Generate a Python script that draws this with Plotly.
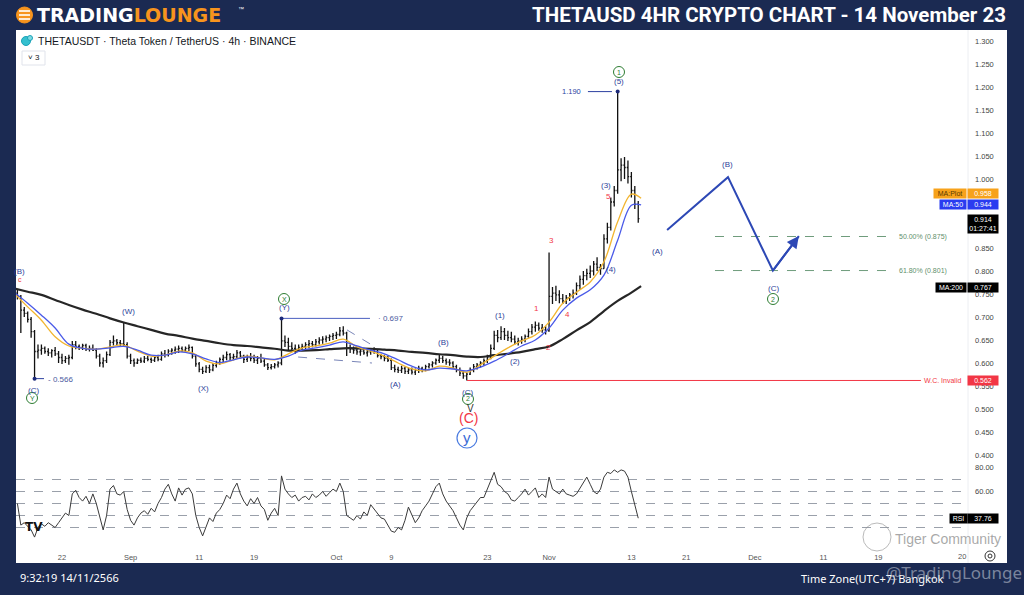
import plotly.graph_objects as go
import pandas as pd

W, H = 1024, 595
def px(x): return x / W
def py(y): return 1 - y / H

NAVY = "#1b2a52"
WAVE_BLUE = "#2d3f9a"
RED = "#f23645"
GREEN = "#2e7d32"
FONT = "Liberation Sans"

# ---------------- DATA ----------------
candle_start = "2023-08-15 12:00"   # 12h candles
first_open = 0.752
highs = [
    .760,
    .748, .722, .712, .700, .672, .640, .640, .636, .632, .630, .635, .626,
    .620, .615, .618, .648, .648, .640, .642, .642, .638, .640, .632, .620,
    .612, .625, .650, .660, .652, .650, .688, .645,
    .620, .610, .610, .612, .615, .616, .612, .616, .618, .625,
    .628, .630, .632, .636, .638, .636, .636, .640, .636, .618,
    .602, .592, .595, .596, .600, .605, .612, .618, .625, .622,
    .620, .628, .626, .618, .618, .622, .618, .615, .620, .610,
    .600, .598, .600, .604, .697, .660, .655, .645, .640, .640,
    .642, .645, .650, .648, .652, .656, .658, .660, .662, .665,
    .668, .678, .680, .668, .640, .636, .634, .630, .632, .628,
    .632, .634, .628, .620, .618, .616, .610, .596, .592, .594,
    .592, .590, .590, .588, .594, .592, .596, .600, .604, .610,
    .618, .616, .610, .608, .604, .596, .590, .582, .580, .590,
    .598, .600, .604, .610, .618, .640, .670, .672, .680, .676,
    .670, .668, .660, .655, .658, .662, .675, .685, .690, .688,
    .685, .680,
    .840, .765, .768, .758, .750, .748, .752, .760, .775, .790,
    .800, .805, .812, .822, .830, .815, .880, .905, .960, .985,
    1.190, 1.045, 1.048, 1.040, 1.015, .985,
    .952,
]
lows = [
    .738,
    .665, .700, .688, .655, .566, .610, .618, .620, .615, .612, .615, .600,
    .598, .600, .596, .608, .630, .628, .628, .626, .625, .626, .610, .592,
    .590, .600, .615, .638, .638, .636, .636, .610,
    .598, .592, .598, .600, .600, .604, .600, .602, .604, .605,
    .612, .614, .618, .620, .622, .624, .624, .626, .610, .592,
    .580, .576, .578, .578, .582, .590, .596, .602, .606, .606,
    .606, .610, .610, .600, .602, .604, .600, .598, .600, .592,
    .585, .586, .588, .590, .595, .635, .628, .625, .620, .624,
    .628, .630, .632, .634, .636, .640, .642, .645, .648, .650,
    .652, .658, .660, .615, .622, .620, .618, .616, .618, .614,
    .618, .620, .612, .608, .604, .602, .585, .580, .578, .578,
    .576, .576, .575, .574, .578, .580, .582, .588, .590, .596,
    .600, .600, .596, .594, .588, .580, .572, .566, .562, .574,
    .580, .586, .590, .594, .600, .608, .628, .645, .650, .650,
    .648, .645, .640, .638, .642, .645, .655, .662, .668, .670,
    .666, .662,
    .668, .728, .735, .730, .728, .728, .735, .740, .748, .760,
    .770, .780, .785, .790, .800, .792, .805, .860, .888, .940,
    .968, .995, 1.000, .990, .960, .935,
    .905,
]
closes = [
    .745,
    .715, .708, .695, .668, .625, .628, .632, .625, .622, .627, .620, .612,
    .605, .610, .612, .640, .636, .634, .638, .630, .632, .628, .615, .600,
    .605, .618, .645, .648, .644, .642, .640, .615,
    .605, .600, .606, .604, .610, .608, .606, .612, .608, .620,
    .618, .626, .628, .630, .632, .628, .632, .634, .615, .598,
    .586, .582, .590, .585, .595, .600, .608, .612, .618, .612,
    .614, .622, .615, .608, .612, .610, .606, .610, .604, .596,
    .590, .592, .596, .600, .648, .645, .636, .632, .630, .634,
    .636, .640, .642, .640, .646, .650, .652, .655, .658, .660,
    .662, .670, .665, .632, .630, .628, .624, .626, .622, .624,
    .628, .625, .616, .614, .610, .606, .590, .586, .584, .588,
    .582, .585, .580, .584, .588, .586, .592, .596, .600, .606,
    .610, .605, .602, .600, .592, .585, .578, .572, .576, .585,
    .592, .596, .600, .605, .612, .632, .660, .655, .668, .660,
    .655, .652, .646, .648, .652, .658, .668, .678, .682, .676,
    .672, .670,
    .745, .752, .748, .740, .735, .742, .748, .752, .768, .782,
    .790, .795, .800, .815, .808, .805, .870, .895, .950, .975,
    1.020, 1.030, 1.025, 1.005, .975, .945,
    .914,
]
rsi = [
    50, 32, 34, 31, 28, 22, 30, 33, 31, 34,
    32, 30, 34, 38, 42, 40, 58, 61, 55, 52,
    56, 50, 58, 50, 38, 28, 40, 62, 65, 58,
    57, 60, 45, 36, 32, 38, 42, 44, 41, 46,
    43, 50, 55, 62, 66, 58, 52, 63, 57, 62,
    63, 58, 40, 30, 23, 30, 38, 35, 42, 45,
    50, 57, 54, 62, 67, 58, 52, 48, 54, 50,
    55, 48, 45, 36, 42, 46, 40, 73, 62, 58,
    55, 57, 52, 55, 56, 53, 58, 55, 57, 60,
    56, 59, 62, 60, 67, 60, 40, 38, 36, 40,
    37, 43, 40, 49, 45, 41, 38, 37, 32, 27,
    26, 30, 28, 36, 47, 40, 34, 38, 44, 48,
    52, 58, 64, 67, 58, 52, 48, 44, 38, 32,
    28, 38, 44, 48, 52, 55, 55, 62, 70, 76,
    66, 64, 60, 58, 53, 52, 55, 58, 62, 57,
    60, 63, 55, 58, 55, 72, 62, 60, 58, 62,
    58, 57, 56, 58, 63, 68, 72, 66, 60, 58,
    62, 72, 76, 75, 78, 76, 78, 77, 72, 60,
    50, 37.76,
]
ma_start = "2023-08-15"  # every 2 days, plus the live point
ma_last_time = "2023-11-14 10:00"
ma200 = [0.762, 0.755, 0.748, 0.737, 0.726, 0.716, 0.707, 0.697, 0.688, 0.680,
         0.672, 0.664, 0.659, 0.653, 0.648, 0.643, 0.639, 0.637, 0.634, 0.631,
         0.627, 0.627, 0.628, 0.630, 0.632, 0.632, 0.631, 0.629, 0.627, 0.624,
         0.622, 0.619, 0.617, 0.614, 0.613, 0.617, 0.620, 0.624, 0.630, 0.636,
         0.652, 0.671, 0.689, 0.713, 0.735, 0.753, 0.767]
ma50 = [0.754, 0.730, 0.704, 0.676, 0.641, 0.632, 0.630, 0.633, 0.636, 0.628,
        0.617, 0.617, 0.624, 0.620, 0.609, 0.601, 0.607, 0.613, 0.611, 0.608,
        0.615, 0.628, 0.633, 0.639, 0.646, 0.637, 0.628, 0.620, 0.607, 0.593,
        0.585, 0.589, 0.587, 0.583, 0.591, 0.604, 0.620, 0.637, 0.650, 0.676,
        0.715, 0.741, 0.759, 0.791, 0.867, 0.943, 0.944]
ma_plot = [0.752, 0.722, 0.693, 0.657, 0.637, 0.632, 0.630, 0.635, 0.639, 0.626,
           0.615, 0.617, 0.626, 0.622, 0.604, 0.598, 0.607, 0.615, 0.611, 0.607,
           0.620, 0.633, 0.637, 0.643, 0.652, 0.635, 0.626, 0.615, 0.600, 0.587,
           0.583, 0.593, 0.589, 0.580, 0.596, 0.615, 0.633, 0.648, 0.661, 0.689,
           0.730, 0.754, 0.776, 0.820, 0.907, 0.967, 0.958]

x_tick_dates = ["2023-08-22", "2023-09-01", "2023-09-11", "2023-09-19", "2023-10-01",
                "2023-10-09", "2023-10-23", "2023-11-01", "2023-11-13", "2023-11-21",
                "2023-12-01", "2023-12-11", "2023-12-19"]
x_tick_text = ["22", "Sep", "11", "19", "Oct", "9", "23", "Nov", "13", "21", "Dec", "11", "19"]
# tick labels left visible (0.900 / 0.950 / 40 / 20 sit under the value boxes in the reference)
price_ticks = [0.40, 0.45, 0.50, 0.55, 0.60, 0.65, 0.70, 0.75, 0.80, 0.85,
               1.00, 1.05, 1.10, 1.15, 1.20, 1.25, 1.30]
rsi_ticks = [80, 60]
rsi_levels = [70, 60, 50, 40, 30]

fib_levels = [0.875, 0.801]
fib_labels = ["50.00% (0.875)", "61.80% (0.801)"]
fib_dates = ["2023-11-25 04:30", "2023-12-21 03:00"]
proj_dates = ["2023-11-18 05:00", "2023-11-27 02:00", "2023-12-03 15:00", "2023-12-07 10:00"]
proj_prices = [0.889, 1.004, 0.801, 0.876]
invalid_level = 0.562
invalid_dates = ["2023-10-20 01:00", "2023-12-25 05:00"]
top_level = 1.190
top_dates = ["2023-11-06 16:00", "2023-11-10 04:00"]
top_time = "2023-11-11 00:00"
x_high_level = 0.697
x_high_dates = ["2023-09-23 00:00", "2023-10-05 21:30"]
low_level = 0.566
low_dates = ["2023-08-18 00:00", "2023-08-19 09:00"]
channel_upper = (["2023-10-02 13:00", "2023-10-06 04:30"], [0.672, 0.639])
channel_lower = (["2023-09-25 10:00", "2023-10-06 04:30"], [0.613, 0.600])

last_price = 0.914
last_rsi = 37.76

# ---------------- BUILD ----------------
candle_times = pd.date_range(candle_start, periods=len(closes), freq="12h")
opens = [first_open] + closes[:-1]
ma_times = list(pd.date_range(ma_start, periods=len(ma200) - 1, freq="2D")) + [pd.Timestamp(ma_last_time)]

fig = go.Figure()

fig.add_trace(go.Ohlc(
    x=candle_times, open=opens, high=highs, low=lows, close=closes,
    increasing=dict(line=dict(color="#111111", width=1.3)),
    decreasing=dict(line=dict(color="#111111", width=1.3)),
    tickwidth=0.35, xaxis="x", yaxis="y", hoverinfo="skip"))

fig.add_trace(go.Scatter(x=ma_times, y=ma200, mode="lines", line=dict(color="#262626", width=2.2, shape="spline"),
                         xaxis="x", yaxis="y", hoverinfo="skip"))
fig.add_trace(go.Scatter(x=ma_times, y=ma_plot, mode="lines", line=dict(color="#f2b530", width=1.3, shape="spline"),
                         xaxis="x", yaxis="y", hoverinfo="skip"))
fig.add_trace(go.Scatter(x=ma_times, y=ma50, mode="lines", line=dict(color="#4a5ae8", width=1.3, shape="spline"),
                         xaxis="x", yaxis="y", hoverinfo="skip"))

def hline(dates, level, color, width=1, dash="solid"):
    fig.add_trace(go.Scatter(x=dates, y=[level, level], mode="lines", line=dict(color=color, width=width, dash=dash),
                             xaxis="x", yaxis="y", hoverinfo="skip"))
hline(invalid_dates, invalid_level, RED, 1)
for lvl in fib_levels:
    hline(fib_dates, lvl, "#6f9c7c", 1, "dash")
hline(top_dates, top_level, "#2c3f9f", 1)
hline(x_high_dates, x_high_level, "#4a5fc0", 1)
hline(low_dates, low_level, "#2c3f9f", 1)
fig.add_trace(go.Scatter(x=[top_time, x_high_dates[0], low_dates[0]], y=[top_level, x_high_level, low_level],
                         mode="markers", marker=dict(color="#1c2a7a", size=4), xaxis="x", yaxis="y", hoverinfo="skip"))
for cx, cy in (channel_upper, channel_lower):
    fig.add_trace(go.Scatter(x=cx, y=cy, mode="lines", line=dict(color="#7a86b8", width=1, dash="dash"),
                             xaxis="x", yaxis="y", hoverinfo="skip"))

fig.add_trace(go.Scatter(x=proj_dates, y=proj_prices, mode="lines", line=dict(color="#2d48b5", width=2),
                         xaxis="x", yaxis="y", hoverinfo="skip"))

fig.add_trace(go.Scatter(x=candle_times, y=rsi, mode="lines", line=dict(color="#3a3a3a", width=1),
                         xaxis="x2", yaxis="y2", hoverinfo="skip"))

x_range = ["2023-08-15 07:03", "2024-01-01 01:41"]
dom_x = [px(16), px(968)]
annotations = []
shapes = []

def label(text, x, y, color, size=8, xanchor="center", family=FONT):
    annotations.append(dict(text=text, x=px(x), y=py(y), xref="paper", yref="paper", showarrow=False,
                            font=dict(color=color, size=size, family=family), xanchor=xanchor, yanchor="middle"))

def circ(x, y, r, color, width=1, fill=None):
    shapes.append(dict(type="circle", xref="paper", yref="paper", x0=px(x - r), x1=px(x + r),
                       y0=py(y + r), y1=py(y - r), line=dict(color=color, width=width),
                       fillcolor=fill if fill else "rgba(0,0,0,0)", layer="above"))

def box(text, xc, y, bg, fg, w, size=7):
    annotations.append(dict(text=text, x=px(xc), y=py(y), xref="paper", yref="paper", showarrow=False,
                            font=dict(color=fg, size=size, family=FONT), bgcolor=bg, width=w, borderpad=1,
                            xanchor="center", yanchor="middle", align="center"))

shapes.append(dict(type="rect", xref="paper", yref="paper", x0=px(16), x1=px(1007), y0=py(563), y1=py(30),
                   fillcolor="white", line=dict(width=0), layer="below"))
shapes.append(dict(type="line", xref="paper", yref="paper", x0=px(968), x1=px(968), y0=py(563), y1=py(30),
                   line=dict(color="#eceef2", width=1), layer="below"))
for lv in rsi_levels:
    shapes.append(dict(type="line", xref="x2 domain", yref="y2", x0=0, x1=1, y0=lv, y1=lv,
                       line=dict(color="#9aa0aa", width=1, dash="dash"), layer="below"))

# header
circ(24.5, 15, 8, "#f7941d", 1, "#f7941d")
for yy in (11, 15, 19):
    shapes.append(dict(type="line", xref="paper", yref="paper", x0=px(19), x1=px(30), y0=py(yy), y1=py(yy),
                       line=dict(color="white", width=1.6), layer="above"))
label("<b><span style='color:#ffffff'>TRADING</span><span style='color:#f7941d'>LOUNGE</span></b>", 35, 15,
      "white", 19, "left", "DejaVu Sans")
label("™", 236, 9, "white", 6, "left")
annotations.append(dict(text="<b>THETAUSD 4HR CRYPTO CHART - 14 November 23</b>", x=px(1008), y=py(15),
                        xref="paper", yref="paper", showarrow=False, xanchor="right", yanchor="middle",
                        font=dict(color="white", size=20.5, family="Roboto")))

# symbol line
circ(26, 41, 4.5, "#1aa3b8", 1, "#35c0cf")
circ(30, 38, 2.5, "#1aa3b8", 1, "#7fdbe4")
label("THETAUSDT · Theta Token / TetherUS · 4h · BINANCE", 36, 41, "#131722", 10.5, "left")
shapes.append(dict(type="rect", xref="paper", yref="paper", x0=px(22), x1=px(45), y0=py(65), y1=py(51),
                   line=dict(color="#e0e3eb", width=1), fillcolor="white", layer="above"))
label("˅ 3", 33.5, 58, "#131722", 8)

# wave labels
label("(B)", 19, 272, WAVE_BLUE, 8)
label("c", 20, 279, RED, 7)
label("(C)", 33, 390, WAVE_BLUE, 8)
circ(32, 398, 5.5, GREEN); label("Y", 32, 398, GREEN, 7)
label("(W)", 128, 311, WAVE_BLUE, 8)
label("(X)", 203, 388, WAVE_BLUE, 8)
circ(284, 299, 5.5, GREEN); label("X", 284, 299, GREEN, 7)
label("(Y)", 284, 307, WAVE_BLUE, 8)
label("(A)", 395, 384, WAVE_BLUE, 8)
label("(B)", 443, 343, WAVE_BLUE, 8)
label("(C)", 467, 392, WAVE_BLUE, 8)
circ(468, 399, 5.5, GREEN); label("2", 468, 399, GREEN, 7)
label("V", 470, 408, "#333333", 10)
label("(C)", 468, 418, RED, 14)
circ(467, 438, 10, "#4a7be0", 1.2); label("y", 467, 437, "#3a6ad6", 15)
label("(1)", 500, 315, WAVE_BLUE, 8)
label("(2)", 515, 362, WAVE_BLUE, 8)
label("1", 536, 308, RED, 8)
label("2", 548, 347, RED, 8)
label("3", 551, 240, RED, 8)
label("4", 567, 314, RED, 8)
label("5", 608, 197, RED, 8)
label("(3)", 606, 185, WAVE_BLUE, 8)
label("(4)", 611, 270, WAVE_BLUE, 8)
label("(5)", 619, 82, WAVE_BLUE, 8)
circ(619, 72, 5.5, GREEN); label("1", 619, 72, GREEN, 7)
label("(A)", 657, 251, WAVE_BLUE, 8)
label("(B)", 727, 164, WAVE_BLUE, 8)
label("(C)", 773, 288, WAVE_BLUE, 8)
circ(773, 299, 5.5, GREEN); label("2", 773, 299, GREEN, 7)

label("- 0.566", 46, 379, "#4a5aa0", 8, "left")
label("· 0.697", 376, 318, "#4a5aa0", 8, "left")
label("1.190", 583, 91, "#2c3f9f", 7.5, "right")
label("W.C. Invalid", 963, 381, RED, 7, "right")
for lvl, txt in zip(fib_levels, fib_labels):
    annotations.append(dict(text=txt, x=fib_dates[1], y=lvl, xref="x", yref="y", showarrow=False,
                            xanchor="left", yanchor="middle", xshift=4,
                            font=dict(color="#5f8f6c", size=7, family=FONT)))

annotations.append(dict(x=proj_dates[3], y=proj_prices[3], ax=proj_dates[2], ay=proj_prices[2],
                        xref="x", yref="y", axref="x", ayref="y", text="", showarrow=True,
                        arrowhead=2, arrowsize=1.2, arrowwidth=2, arrowcolor="#2d48b5"))

box("MA:Plot", 950, 194, "#f7a21b", "#5a3a00", 30)
box("%.3f" % ma_plot[-1], 983, 194, "#f7a21b", "white", 28)
box("MA:50", 953, 204.5, "#2a3cf0", "white", 24)
box("%.3f" % ma50[-1], 983, 204.5, "#2a3cf0", "white", 28)
box("%.3f<br>01:27:41" % last_price, 983, 224, "#000000", "white", 28)
box("MA:200", 951, 287, "#000000", "white", 28)
box("%.3f" % ma200[-1], 983, 287, "#000000", "white", 28)
box("%.3f" % invalid_level, 983, 381, RED, "white", 28)
box("RSI", 958, 518, "#000000", "white", 15)
box("%.2f" % last_rsi, 983, 518, "#000000", "white", 28)

annotations.append(dict(text="<b>TV</b>", x=px(34), y=py(527), xref="paper", yref="paper", showarrow=False,
                        font=dict(color="#111111", size=12, family="DejaVu Sans"), xanchor="center", yanchor="middle"))
circ(877, 537, 14, "rgba(140,140,140,0.6)", 1)
label("Tiger Community", 893, 539, "rgba(140,140,140,0.75)", 14, "left")
label("20", 962, 556, "#555555", 7.5)
circ(990, 556, 5, "#333333", 1)
circ(990, 556, 2, "#333333", 1)
label("9:32:19 14/11/2566", 18, 577, "white", 11, "left", "Noto Sans")
label("Time Zone(UTC+7) Bangkok", 799, 578, "white", 11, "left", "Noto Sans")
label("@TradingLounge", 884, 572, "rgba(205,210,222,0.55)", 17, "left", "Noto Sans")

fig.update_layout(
    width=W, height=H, autosize=False,
    margin=dict(l=0, r=0, t=0, b=0),
    paper_bgcolor=NAVY, plot_bgcolor="rgba(0,0,0,0)",
    showlegend=False, hovermode=False,
    xaxis=dict(domain=dom_x, range=x_range, type="date", anchor="y", showticklabels=False,
               showgrid=False, zeroline=False, rangeslider=dict(visible=False), showline=False),
    xaxis2=dict(domain=dom_x, range=x_range, type="date", anchor="y2", matches="x",
                tickmode="array", tickvals=x_tick_dates, ticktext=x_tick_text, ticks="",
                tickfont=dict(size=7.5, color="#555555", family=FONT), ticklabelstandoff=6,
                showgrid=False, zeroline=False, showline=False),
    yaxis=dict(domain=[py(459), py(31)], range=[0.39130, 1.32174], side="right", anchor="x",
               tickmode="array", tickvals=price_ticks, ticktext=["%.3f" % v for v in price_ticks],
               tickfont=dict(size=7.5, color="#444444", family=FONT), ticks="", ticklabelstandoff=6,
               showgrid=False, zeroline=False, showline=False),
    yaxis2=dict(domain=[py(545), py(460)], range=[15.42, 86.25], side="right", anchor="x2",
                tickmode="array", tickvals=rsi_ticks, ticktext=["%.2f" % v for v in rsi_ticks],
                tickfont=dict(size=7.5, color="#444444", family=FONT), ticks="", ticklabelstandoff=6,
                showgrid=False, zeroline=False, showline=False),
    annotations=annotations, shapes=shapes,
)

fig.write_html("out.html", config={"displayModeBar": False},
               post_script="document.body.style.margin='0';document.body.style.overflow='hidden';")
